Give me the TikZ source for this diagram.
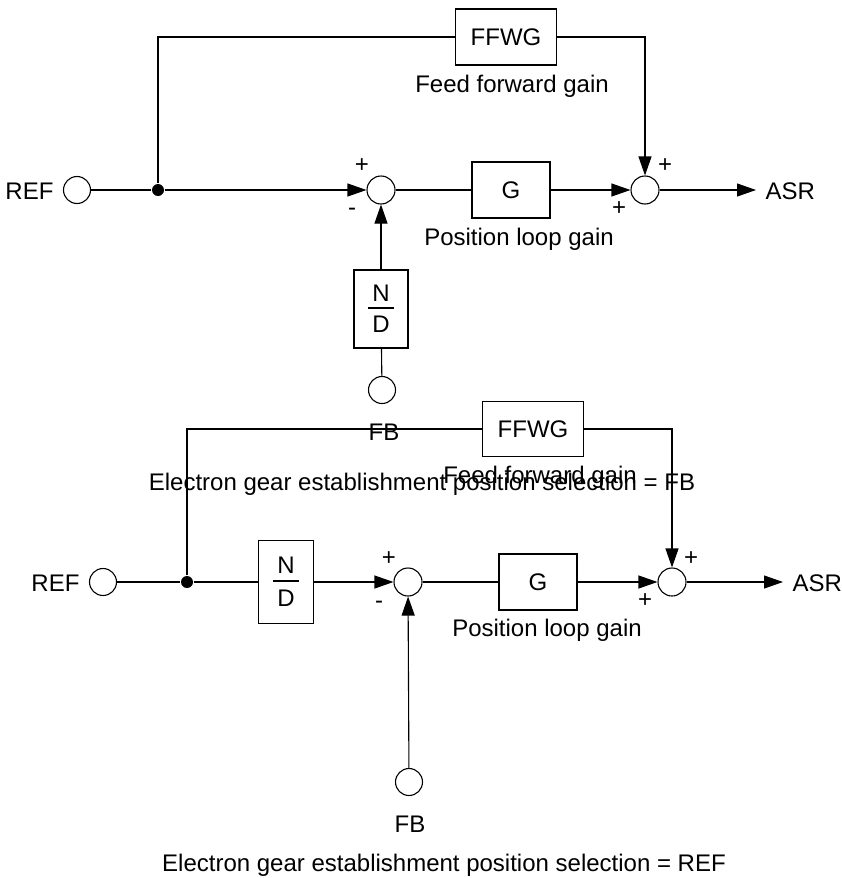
\documentclass[tikz,border=0pt]{standalone}
\usepackage{fontspec}
\setmainfont{Liberation Sans}
\usetikzlibrary{arrows.meta}
\begin{document}
\begin{tikzpicture}[x=1pt, y=-1pt, line width=1.1pt,
        font=\fontsize{24}{28}\selectfont,
        >={Triangle[length=19pt, width=13pt]},
        sumnode/.style={circle, draw, minimum size=28pt, inner sep=0pt},
        port/.style={circle, draw, minimum size=27pt, inner sep=0pt},
        dot/.style={circle, fill, minimum size=12pt, inner sep=0pt},
        blockbox/.style={draw, rectangle, minimum width=78pt, minimum height=56pt, inner sep=0pt},
        sign/.style={inner sep=0pt}]
    \useasboundingbox (0,0) rectangle (842,878);

    \node[port] (ref1) at (77,190) {};
    \node[anchor=east, inner sep=0pt] (reft1) at (54,191) {REF};
    \node[dot] (j1) at (158,190) {};
    \node[sumnode] (s1) at (381,190) {};
    \node[blockbox] (g1) at (511,190) {G};
    \node[sumnode] (s2) at (645,190) {};
    \coordinate (out1) at (756,190);
    \node[anchor=west, inner sep=0pt] (asr1) at (765,191) {ASR};
    \node[blockbox, minimum width=101pt] (ff1) at (506,37) {FFWG};
    \node[blockbox, minimum width=54pt, minimum height=78pt] (nd1) at (381,309) {};
    \node[inner sep=0pt] (n1) at (381,293) {N};
    \node[inner sep=0pt] (d1) at (381,324) {D};
    \draw (368,308) -- (394,308);
    \node[port] (fb1) at (382,390) {};
    \node (fbt1) at (384,432) {FB};
    \node (ffl1) at (512,86) {Feed forward gain};
    \node (gl1) at (519,239) {Position loop gain};
    \node[sign] at (362,166) {+};
    \node[sign] at (352,212) {-};
    \node[sign] at (665,166) {+};
    \node[sign] at (619,209) {+};
    \draw (ref1) -- (j1);
    \draw[->] (j1) -- (s1);
    \draw (s1) -- (g1);
    \draw[->] (g1) -- (s2);
    \draw[->] (s2) -- (out1);
    \draw (j1) |- (ff1);
    \draw[->] (ff1) -| (s2);
    \draw[->] (nd1) -- (s1);
    \draw (fb1) -- (nd1);
    \node (cap1) at (422,484) {Electron gear establishment position selection = FB};

    \node[port] (ref2) at (103,582) {};
    \node[anchor=east, inner sep=0pt] (reft2) at (80,583) {REF};
    \node[dot] (j2) at (187,582) {};
    \node[blockbox, minimum width=55pt, minimum height=83pt] (nd2) at (286,582) {};
    \node[inner sep=0pt] (n2) at (286,565) {N};
    \node[inner sep=0pt] (d2) at (286,598) {D};
    \draw (273,581) -- (299,581);
    \node[sumnode] (s3) at (408,582) {};
    \node[blockbox] (g2) at (538,582) {G};
    \node[sumnode] (s4) at (672,582) {};
    \coordinate (out2) at (783,582);
    \node[anchor=west, inner sep=0pt] (asr2) at (792,583) {ASR};
    \node[blockbox, minimum width=101pt, minimum height=55pt] (ff2) at (533,429) {FFWG};
    \node[port] (fb2) at (409,782) {};
    \node (fbt2) at (410,824) {FB};
    \node (ffl2) at (540,477) {Feed forward gain};
    \node (gl2) at (547,630) {Position loop gain};
    \node[sign] at (389,559) {+};
    \node[sign] at (379,605) {-};
    \node[sign] at (691,559) {+};
    \node[sign] at (645,601) {+};
    \draw (ref2) -- (j2);
    \draw (j2) -- (nd2);
    \draw[->] (nd2) -- (s3);
    \draw (s3) -- (g2);
    \draw[->] (g2) -- (s4);
    \draw[->] (s4) -- (out2);
    \draw (j2) |- (ff2);
    \draw[->] (ff2) -| (s4);
    \draw[->] (fb2) -- (s3);
    \node (cap2) at (444,865) {Electron gear establishment position selection = REF};
\end{tikzpicture}
\end{document}
